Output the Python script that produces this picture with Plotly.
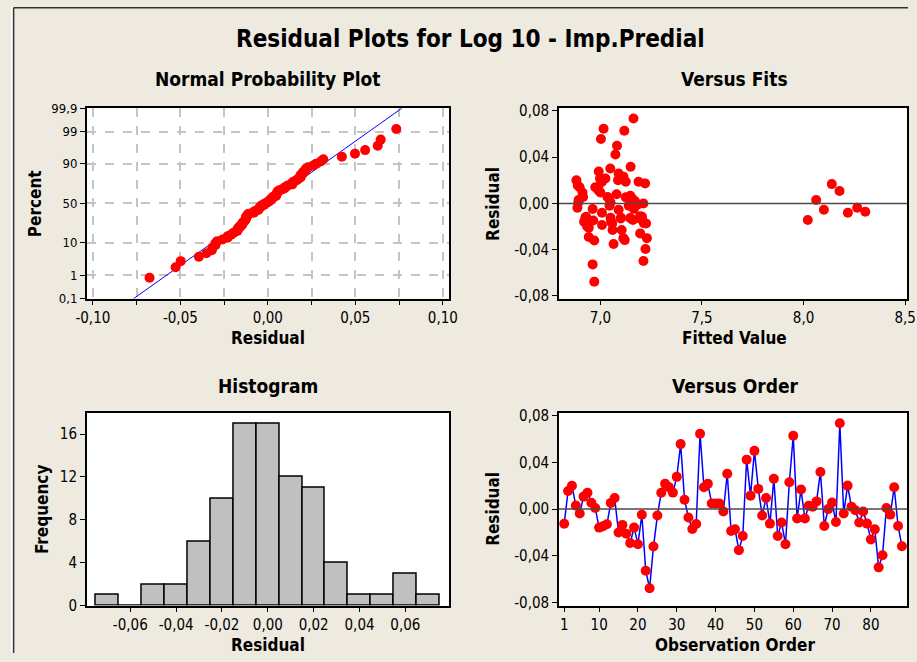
import numpy as np
import plotly.graph_objects as go
from statistics import NormalDist

# Residuals in observation order (1..88)
residuals = [
    -0.0125, 0.0155, 0.0200, 0.0030, -0.0037, 0.0107, 0.0140, 0.0055, 0.0010, -0.0158,
    -0.0147, -0.0130, 0.0053, 0.0095, -0.0200, -0.0135, -0.0210, -0.0290, -0.0158, -0.0300,
    -0.0048, -0.0527, -0.0676, -0.0320, -0.0055, 0.0140, 0.0216, 0.0187, 0.0141, 0.0276,
    0.0556, 0.0080, -0.0072, -0.0170, -0.0127, 0.0645, 0.0187, 0.0216, 0.0048, 0.0049,
    0.0047, -0.0020, 0.0302, -0.0187, -0.0173, -0.0351, -0.0230, 0.0423, 0.0115, 0.0498,
    0.0173, -0.0054, 0.0095, -0.0124, 0.0259, -0.0230, -0.0115, -0.0300, 0.0230, 0.0628,
    -0.0080, 0.0167, -0.0080, 0.0029, 0.0020, 0.0066, 0.0317, -0.0144, 0.0000, 0.0056,
    -0.0110, 0.0734, -0.0037, 0.0201, 0.0020, -0.0009, -0.0115, -0.0020, -0.0124, -0.0259,
    -0.0173, -0.0498, -0.0394, 0.0009, -0.0047, 0.0187, -0.0144, -0.0317,
]

# Fitted values for the same observations
fitted = [
    6.926, 6.889, 6.882, 8.062, 6.887, 8.177, 6.898, 6.915, 6.892, 6.920,
    6.965, 7.100, 7.125, 6.912, 6.935, 7.198, 6.943, 6.943, 7.053, 7.113,
    6.962, 6.962, 6.970, 6.970, 8.100, 6.975, 7.025, 7.188, 6.990, 6.992,
    7.003, 7.080, 8.304, 7.214, 7.147, 7.016, 7.008, 6.998, 7.040, 7.130,
    7.155, 7.140, 7.049, 7.008, 7.058, 7.065, 7.060, 7.074, 6.990, 7.082,
    7.220, 7.090, 7.000, 7.102, 7.090, 7.105, 6.930, 7.229, 7.114, 7.118,
    8.218, 8.139, 7.008, 6.893, 7.170, 7.147, 7.149, 8.021, 7.212, 7.035,
    7.196, 7.163, 8.264, 7.087, 7.160, 7.185, 7.205, 7.045, 7.050, 7.196,
    7.225, 7.212, 7.222, 7.050, 7.165, 7.125, 7.160, 7.120,
]

observation = list(range(1, len(residuals) + 1))

pct_ticks = [0.1, 1, 10, 50, 90, 99, 99.9]
pct_labels = ["0,1", "1", "10", "50", "90", "99", "99,9"]
npp_xticks = [-0.10, -0.075, -0.05, -0.025, 0.0, 0.025, 0.05, 0.075, 0.10]
res_yticks = [-0.08, -0.04, 0.0, 0.04, 0.08]
fit_xticks = [7.0, 7.5, 8.0, 8.5]
hist_xticks = [-0.06, -0.04, -0.02, 0.0, 0.02, 0.04, 0.06]
hist_yticks = [0, 4, 8, 12, 16]
order_xticks = [1, 10, 20, 30, 40, 50, 60, 70, 80]
bin_edges = [round(-0.075 + 0.01 * k, 3) for k in range(16)]

W, H = 917, 662
# the page keeps the default body margin, so the figure is seen slightly reduced;
# layout positions below are given in on-screen pixels and mapped back here
SX, SY, OX, OY = 0.983, 0.976, 7.9, 7.8
FONT = "DejaVu Sans Condensed, DejaVu Sans, Liberation Sans, sans-serif"
BG = "#EEEAE0"
RED = "#FF0000"
BLUE = "#0000FF"


def comma(v, nd):
    return f"{v:.{nd}f}".replace(".", ",")


def px(x):
    return min(max((x - OX) / SX / W, 0.0), 1.0)


def py(y):
    return min(max(1 - (y - OY) / SY / H, 0.0), 1.0)


nd = NormalDist()
res = np.array(residuals)
n = len(res)

# normal probability plot positions (median ranks)
sorted_res = np.sort(res)
ranks = (np.arange(1, n + 1) - 0.3) / (n + 0.4)
z_pos = [nd.inv_cdf(p) for p in ranks]
z_lo, z_hi = nd.inv_cdf(0.001), nd.inv_cdf(0.999)
mu, sd = res.mean(), res.std(ddof=1)

counts, _ = np.histogram(res, bins=bin_edges)
centers = [(bin_edges[i] + bin_edges[i + 1]) / 2 for i in range(len(bin_edges) - 1)]

fig = go.Figure()

# Normal probability plot
fig.add_trace(go.Scatter(x=[mu + sd * z_lo, mu + sd * z_hi], y=[z_lo, z_hi], mode="lines",
                         line=dict(color=BLUE, width=1), xaxis="x", yaxis="y", showlegend=False))
fig.add_trace(go.Scatter(x=sorted_res, y=z_pos, mode="markers",
                         marker=dict(color=RED, size=10), xaxis="x", yaxis="y", showlegend=False))

# Versus fits
fig.add_trace(go.Scatter(x=fitted, y=residuals, mode="markers",
                         marker=dict(color=RED, size=10), xaxis="x2", yaxis="y2", showlegend=False))

# Histogram
fig.add_trace(go.Bar(x=centers, y=counts, width=0.01,
                     marker=dict(color="#C0C0C0", line=dict(color="black", width=1.5)),
                     xaxis="x3", yaxis="y3", showlegend=False))

# Versus order
fig.add_trace(go.Scatter(x=observation, y=residuals, mode="lines+markers",
                         line=dict(color=BLUE, width=1.5), cliponaxis=False,
                         marker=dict(color=RED, size=10), xaxis="x4", yaxis="y4", showlegend=False))

LEFT = [84, 448]
RIGHT = [558.5, 908.3]
TOP = [109, 299.5]
BOTTOM = [413.5, 606.5]

axis_common = dict(showline=True, mirror=True, linecolor="black", linewidth=1.5,
                   ticks="outside", ticklen=5, tickwidth=1, tickcolor="black",
                   zeroline=False, showgrid=False,
                   tickfont=dict(family=FONT, size=15, color="black"))

grid = dict(showgrid=True, gridcolor="#C4C4C4", gridwidth=1.5, griddash="dash")

fig.update_layout(
    width=W, height=H,
    margin=dict(l=0, r=0, t=0, b=0),
    paper_bgcolor=BG, plot_bgcolor="white",
    xaxis=dict(axis_common, **grid, domain=[px(LEFT[0]), px(LEFT[1])], anchor="y",
               range=[-0.1035, 0.1035], tickvals=npp_xticks,
               ticktext=[comma(v, 2) if abs(round(v / 0.05) - v / 0.05) < 1e-9 else "" for v in npp_xticks]),
    yaxis=dict(axis_common, **grid, domain=[py(TOP[1]), py(TOP[0])], anchor="x",
               range=[z_lo, z_hi], tickvals=[nd.inv_cdf(p / 100) for p in pct_ticks],
               ticktext=pct_labels, tickfont=dict(family=FONT, size=13, color="black")),
    xaxis2=dict(axis_common, domain=[px(RIGHT[0]), px(RIGHT[1])], anchor="y2",
                range=[6.796, 8.509], tickvals=fit_xticks, ticktext=[comma(v, 1) for v in fit_xticks]),
    yaxis2=dict(axis_common, domain=[py(TOP[1]), py(TOP[0])], anchor="x2",
                range=[-0.0823, 0.0823], tickvals=res_yticks, ticktext=[comma(v, 2) for v in res_yticks]),
    xaxis3=dict(axis_common, domain=[px(LEFT[0]), px(LEFT[1])], anchor="y3",
                range=[-0.079, 0.079], tickvals=hist_xticks, ticktext=[comma(v, 2) for v in hist_xticks]),
    yaxis3=dict(axis_common, domain=[py(BOTTOM[1]), py(BOTTOM[0])], anchor="x3",
                range=[0, 18], tickvals=hist_yticks, ticktext=[str(v) for v in hist_yticks]),
    xaxis4=dict(axis_common, domain=[px(RIGHT[0]), px(RIGHT[1])], anchor="y4",
                range=[-0.36, 89.3], tickvals=order_xticks, ticktext=[str(v) for v in order_xticks]),
    yaxis4=dict(axis_common, domain=[py(BOTTOM[1]), py(BOTTOM[0])], anchor="x4",
                range=[-0.0825, 0.0825], tickvals=res_yticks, ticktext=[comma(v, 2) for v in res_yticks]),
    bargap=0,
)

# zero reference lines
for xa, ya in (("x2", "y2"), ("x4", "y4")):
    fig.add_shape(type="line", xref=f"{xa} domain", yref=ya, x0=0, x1=1, y0=0, y1=0,
                  line=dict(color="#4A4A4A", width=1.5))

# white strip and dark frame along the top-left edges
fig.add_shape(type="rect", xref="paper", yref="paper", x0=0, x1=px(10), y0=0, y1=1,
              fillcolor="white", line=dict(width=0))
fig.add_shape(type="line", xref="paper", yref="paper", x0=px(10.5), x1=1, y0=py(8.6), y1=py(8.6),
              line=dict(color="#303030", width=1.5))
fig.add_shape(type="line", xref="paper", yref="paper", x0=px(10.5), x1=px(10.5), y0=0, y1=py(8.6),
              line=dict(color="#303030", width=1.5))


def label(text, x, y, size, angle=0):
    fig.add_annotation(text=f"<b>{text}</b>", x=px(x), y=py(y), xref="paper", yref="paper",
                       showarrow=False, xanchor="center", yanchor="middle", textangle=angle,
                       font=dict(family=FONT, size=size, color="black"))


label("Residual Plots for Log 10 - Imp.Predial", 470, 40, 24)
label("Normal Probability Plot", (LEFT[0] + LEFT[1]) / 2, 80, 19)
label("Versus Fits", 735, 80, 19)
label("Histogram", (LEFT[0] + LEFT[1]) / 2, 387, 19)
label("Versus Order", 735, 387, 19)

label("Residual", (LEFT[0] + LEFT[1]) / 2, 339, 17)
label("Fitted Value", 735, 339, 17)
label("Residual", (LEFT[0] + LEFT[1]) / 2, 646, 17)
label("Observation Order", 735, 646, 17)

label("Percent", 32, 204, 17, -90)
label("Residual", 492, 205, 17, -90)
label("Frequency", 39, 510, 17, -90)
label("Residual", 492, 510, 17, -90)

fig.write_html("out.html")
